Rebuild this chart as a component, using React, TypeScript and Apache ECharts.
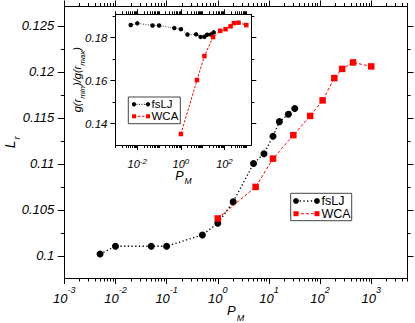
import React, { useEffect, useRef } from 'react';
import * as echarts from 'echarts';

// ---- data ----
const pFsLJ = [0.005, 0.01, 0.05, 0.1, 0.5, 1, 2, 5, 8, 12, 16, 24, 32];
const lrFsLJ = [0.1002, 0.10105, 0.10105, 0.10105, 0.10228, 0.10355, 0.10587, 0.11004, 0.11111, 0.11301, 0.11459, 0.1154, 0.11602];
const pWCA = [1, 5.5, 12, 30, 64, 112, 190, 270, 440, 1000];
const lrWCA = [0.10407, 0.1075, 0.11057, 0.11312, 0.11521, 0.1169, 0.11932, 0.12032, 0.12102, 0.12059];
const gFsLJ = [0.1858, 0.1866, 0.1856, 0.1856, 0.1844, 0.1839, 0.1814, 0.1815, 0.1803, 0.1804, 0.1813, 0.1814, 0.1824];
const gWCA = [0.1352, 0.1603, 0.1714, 0.1802, 0.1831, 0.1839, 0.1852, 0.1867, 0.1869, 0.1858];

// ---- axis ticks ----
const mainXMin = 0.001;
const mainXMax = 5000;
const mainYMin = 0.0976;
const mainYMax = 0.1271;
const mainYMajor = [0.1, 0.105, 0.11, 0.115, 0.12, 0.125];
const mainYMinor = [0.1025, 0.1075, 0.1125, 0.1175, 0.1225];
const mainXMajorExp = [-3, -2, -1, 0, 1, 2, 3];

const insetXMin = 0.001;
const insetXMax = 1700;
const insetYMin = 0.1301;
const insetYMax = 0.1908;
const insetYMajor = [0.14, 0.16, 0.18];
const insetYMinor = [0.15, 0.17, 0.19];
const insetXMajorExp = [-2, 0, 2];

const FONT = 'Liberation Sans, Arial, Helvetica, sans-serif';

function logMinorTicks(minExp: number, maxLog: number, skip: number[]) {
  const out: number[] = [];
  for (let n = minExp; n <= Math.ceil(maxLog); n++) {
    for (let k = 1; k <= 9; k++) {
      const v = Math.log10(k) + n;
      if (k === 1 && skip.indexOf(n) >= 0) continue;
      if (v > maxLog + 1e-9 || v < minExp - 1e-9) continue;
      out.push(v);
    }
  }
  return out;
}

const lineCol = '#000';

function tickAxis(opts: any) {
  return {
    type: 'value',
    splitLine: { show: false },
    nameMoveOverlap: false,
    axisLine: { show: !!opts.line, onZero: false, lineStyle: { color: lineCol, width: 1 } },
    axisTick: {
      show: true,
      inside: false,
      length: opts.len,
      customValues: opts.ticks,
      lineStyle: { color: lineCol, width: 1 },
    },
    axisLabel: opts.label || { show: false },
    ...opts.extra,
  };
}

function supLabel(values: number[], size: number, supSize: number, lh: number, supLh: number, margin: number) {
  return {
    show: true,
    margin,
    customValues: values,
    formatter: (v: number) => `{b|10}{s|${Math.round(v)}}`,
    rich: {
      b: { fontFamily: FONT, fontStyle: 'italic', fontSize: size, lineHeight: lh, verticalAlign: 'bottom', color: '#000' },
      s: { fontFamily: FONT, fontStyle: 'italic', fontSize: supSize, lineHeight: supLh, verticalAlign: 'top', color: '#000' },
    },
  };
}

export default function App() {
  const ref = useRef<HTMLDivElement>(null);
  useEffect(() => {
    document.body.style.margin = '0';
    if (!ref.current) return;
    const chart = echarts.init(ref.current, undefined, { renderer: 'svg' });

    const mainXMaxLog = Math.log10(mainXMax);
    const insetXMaxLog = Math.log10(insetXMax);
    const mainGrid = { left: 64.3, top: 6.5, width: 342.7, height: 271.5, outerBoundsMode: 'none' };
    const insetGrid = { left: 115.5, top: 14.3, width: 135.8, height: 130.7, outerBoundsMode: 'none' };

    const option: any = {
      animation: false,
      backgroundColor: '#fff',
      grid: [
        { ...mainGrid },
        { ...mainGrid },
        { ...mainGrid },
        { ...insetGrid, show: true, backgroundColor: '#fff', borderWidth: 0, z: 10 },
        { ...insetGrid, z: 10 },
        { ...insetGrid, z: 10 },
      ],
      xAxis: [
        { type: 'log', gridIndex: 0, min: mainXMin, max: mainXMax, show: false },
        tickAxis({
          line: true, len: 6, ticks: mainXMajorExp,
          label: supLabel(mainXMajorExp, 13, 9, 20, 8, 7),
          extra: {
            gridIndex: 1, position: 'bottom', min: -3, max: mainXMaxLog,
            name: '{p|P}{m|M}', nameLocation: 'middle', nameGap: 26,
            nameTextStyle: {
              rich: {
                p: { fontFamily: FONT, fontStyle: 'italic', fontSize: 13, lineHeight: 14, verticalAlign: 'top', color: '#000' },
                m: { fontFamily: FONT, fontStyle: 'italic', fontSize: 9, lineHeight: 10, verticalAlign: 'top', padding: [9, 0, 0, 1], color: '#000' },
              },
            },
          },
        }),
        tickAxis({ line: true, len: 6, ticks: mainXMajorExp, extra: { gridIndex: 1, position: 'top', min: -3, max: mainXMaxLog } }),
        tickAxis({ line: false, len: 3.5, ticks: logMinorTicks(-3, mainXMaxLog, mainXMajorExp), extra: { gridIndex: 2, position: 'bottom', min: -3, max: mainXMaxLog } }),
        tickAxis({ line: false, len: 3.5, ticks: logMinorTicks(-3, mainXMaxLog, mainXMajorExp), extra: { gridIndex: 2, position: 'top', min: -3, max: mainXMaxLog } }),
        { type: 'log', gridIndex: 3, min: insetXMin, max: insetXMax, show: false },
        tickAxis({
          line: true, len: 5, ticks: insetXMajorExp,
          label: supLabel(insetXMajorExp, 11, 8, 12, 6, 12),
          extra: {
            gridIndex: 4, position: 'bottom', min: -3, max: insetXMaxLog, z: 11,
            name: '{p|P}{m|M}', nameLocation: 'middle', nameGap: 24.5,
            nameTextStyle: {
              rich: {
                p: { fontFamily: FONT, fontStyle: 'italic', fontSize: 12.5, lineHeight: 12, verticalAlign: 'top', color: '#000' },
                m: { fontFamily: FONT, fontStyle: 'italic', fontSize: 8.5, lineHeight: 8, verticalAlign: 'top', padding: [7, 0, 0, 1], color: '#000' },
              },
            },
          },
        }),
        tickAxis({ line: true, len: 5, ticks: insetXMajorExp, extra: { gridIndex: 4, position: 'top', min: -3, max: insetXMaxLog, z: 11 } }),
        tickAxis({ line: false, len: 3, ticks: logMinorTicks(-3, insetXMaxLog, insetXMajorExp), extra: { gridIndex: 5, position: 'bottom', min: -3, max: insetXMaxLog, z: 11 } }),
        tickAxis({ line: false, len: 3, ticks: logMinorTicks(-3, insetXMaxLog, insetXMajorExp), extra: { gridIndex: 5, position: 'top', min: -3, max: insetXMaxLog, z: 11 } }),
      ],
      yAxis: [
        tickAxis({
          line: true, len: 6.5, ticks: mainYMajor,
          label: {
            show: true, margin: 10, customValues: mainYMajor,
            formatter: (v: number) => String(parseFloat(v.toFixed(4))),
            fontFamily: FONT, fontStyle: 'italic', fontSize: 13, color: '#000',
          },
          extra: {
            gridIndex: 0, position: 'left', min: mainYMin, max: mainYMax,
            name: '{t|L}{u|r}', nameLocation: 'middle', nameGap: 46,
            nameTextStyle: {
              rich: {
                t: { fontFamily: FONT, fontStyle: 'italic', fontSize: 14, lineHeight: 15, verticalAlign: 'top', color: '#000' },
                u: { fontFamily: FONT, fontStyle: 'italic', fontSize: 9.5, lineHeight: 10, verticalAlign: 'top', padding: [8, 0, 0, 1], color: '#000' },
              },
            },
          },
        }),
        tickAxis({ line: true, len: 6.5, ticks: mainYMajor, extra: { gridIndex: 1, position: 'right', min: mainYMin, max: mainYMax } }),
        tickAxis({ line: false, len: 3.5, ticks: mainYMinor, extra: { gridIndex: 2, position: 'left', min: mainYMin, max: mainYMax } }),
        tickAxis({ line: false, len: 3.5, ticks: mainYMinor, extra: { gridIndex: 2, position: 'right', min: mainYMin, max: mainYMax } }),
        tickAxis({
          line: true, len: 5, ticks: insetYMajor,
          label: {
            show: true, margin: 8, customValues: insetYMajor,
            formatter: (v: number) => String(parseFloat(v.toFixed(4))),
            fontFamily: FONT, fontStyle: 'italic', fontSize: 11.5, color: '#000',
          },
          extra: {
            gridIndex: 3, position: 'left', min: insetYMin, max: insetYMax, z: 11,
            name: '{t|g(r}{u|min}{t|)/g(r}{u|max}{t|)}', nameLocation: 'middle', nameGap: 32,
            nameTextStyle: {
              rich: {
                t: { fontFamily: FONT, fontStyle: 'italic', fontSize: 11, lineHeight: 12, verticalAlign: 'top', color: '#000' },
                u: { fontFamily: FONT, fontStyle: 'italic', fontSize: 8, lineHeight: 8, verticalAlign: 'top', padding: [7, 0, 0, 0], color: '#000' },
              },
            },
          },
        }),
        tickAxis({ line: true, len: 5, ticks: insetYMajor, extra: { gridIndex: 4, position: 'right', min: insetYMin, max: insetYMax, z: 11 } }),
        tickAxis({ line: false, len: 3, ticks: insetYMinor, extra: { gridIndex: 5, position: 'left', min: insetYMin, max: insetYMax, z: 11 } }),
        tickAxis({ line: false, len: 3, ticks: insetYMinor, extra: { gridIndex: 5, position: 'right', min: insetYMin, max: insetYMax, z: 11 } }),
      ],
      series: [
        {
          name: 'fsLJ', type: 'line', xAxisIndex: 0, yAxisIndex: 0,
          data: pFsLJ.map((p, i) => [p, lrFsLJ[i]]),
          symbol: 'circle', symbolSize: 7,
          itemStyle: { color: '#000' },
          lineStyle: { color: '#000', width: 1.3, type: [1.3, 2.4] },
          z: 3,
        },
        {
          name: 'WCA', type: 'line', xAxisIndex: 0, yAxisIndex: 0,
          data: pWCA.map((p, i) => [p, lrWCA[i]]),
          symbol: 'rect', symbolSize: 6.5,
          itemStyle: { color: '#ff0000' },
          lineStyle: { color: '#ff0000', width: 1, type: [3, 2] },
          z: 4,
        },
        {
          name: 'fsLJ inset', type: 'line', xAxisIndex: 5, yAxisIndex: 4,
          data: pFsLJ.map((p, i) => [p, gFsLJ[i]]),
          symbol: 'circle', symbolSize: 4.5,
          itemStyle: { color: '#000' },
          lineStyle: { color: '#444', width: 1, type: [1, 1.5] },
          z: 12,
        },
        {
          name: 'WCA inset', type: 'line', xAxisIndex: 5, yAxisIndex: 4,
          data: pWCA.map((p, i) => [p, gWCA[i]]),
          symbol: 'rect', symbolSize: 4.5,
          itemStyle: { color: '#ff0000' },
          lineStyle: { color: '#ff0000', width: 1, type: [2.5, 1.5] },
          z: 13,
        },
      ],
      graphic: [
        // main legend
        { type: 'rect', z: 20, shape: { x: 290.7, y: 193.3, width: 61, height: 27.4 }, style: { fill: '#fff', stroke: '#444', lineWidth: 1 } },
        { type: 'line', z: 21, shape: { x1: 296, y1: 201, x2: 317, y2: 201 }, style: { stroke: '#000', lineWidth: 1.3, lineDash: [1.3, 2.4] } },
        { type: 'circle', z: 22, shape: { cx: 296, cy: 201, r: 2.9 }, style: { fill: '#000' } },
        { type: 'circle', z: 22, shape: { cx: 317, cy: 201, r: 2.9 }, style: { fill: '#000' } },
        { type: 'text', z: 22, x: 321.5, y: 201, style: { text: 'fsLJ', fontFamily: FONT, fontSize: 12.5, fill: '#000', verticalAlign: 'middle', align: 'left' } },
        { type: 'line', z: 21, shape: { x1: 296, y1: 213.7, x2: 317, y2: 213.7 }, style: { stroke: '#ff0000', lineWidth: 1, lineDash: [3, 2] } },
        { type: 'rect', z: 22, shape: { x: 293.5, y: 211.2, width: 5, height: 5 }, style: { fill: '#ff0000' } },
        { type: 'rect', z: 22, shape: { x: 314.5, y: 211.2, width: 5, height: 5 }, style: { fill: '#ff0000' } },
        { type: 'text', z: 22, x: 321.5, y: 213.7, style: { text: 'WCA', fontFamily: FONT, fontSize: 12.5, fill: '#000', verticalAlign: 'middle', align: 'left' } },
        // inset legend
        { type: 'rect', z: 20, shape: { x: 128.3, y: 97, width: 52, height: 26.7 }, style: { fill: '#fff', stroke: '#444', lineWidth: 1 } },
        { type: 'line', z: 21, shape: { x1: 134, y1: 104.3, x2: 148, y2: 104.3 }, style: { stroke: '#000', lineWidth: 1, lineDash: [1, 1.5] } },
        { type: 'circle', z: 22, shape: { cx: 134, cy: 104.3, r: 2.2 }, style: { fill: '#000' } },
        { type: 'circle', z: 22, shape: { cx: 148, cy: 104.3, r: 2.2 }, style: { fill: '#000' } },
        { type: 'text', z: 22, x: 151.5, y: 104.3, style: { text: 'fsLJ', fontFamily: FONT, fontSize: 11.5, fill: '#000', verticalAlign: 'middle', align: 'left' } },
        { type: 'line', z: 21, shape: { x1: 134, y1: 116.3, x2: 148, y2: 116.3 }, style: { stroke: '#ff0000', lineWidth: 1, lineDash: [2.5, 1.5] } },
        { type: 'rect', z: 22, shape: { x: 132, y: 114.3, width: 4, height: 4 }, style: { fill: '#ff0000' } },
        { type: 'rect', z: 22, shape: { x: 146, y: 114.3, width: 4, height: 4 }, style: { fill: '#ff0000' } },
        { type: 'text', z: 22, x: 151.5, y: 116.3, style: { text: 'WCA', fontFamily: FONT, fontSize: 11.5, fill: '#000', verticalAlign: 'middle', align: 'left' } },
      ],
    };

    chart.setOption(option);
    return () => chart.dispose();
  }, []);

  return <div ref={ref} style={{ width: 415, height: 323 }} />;
}
